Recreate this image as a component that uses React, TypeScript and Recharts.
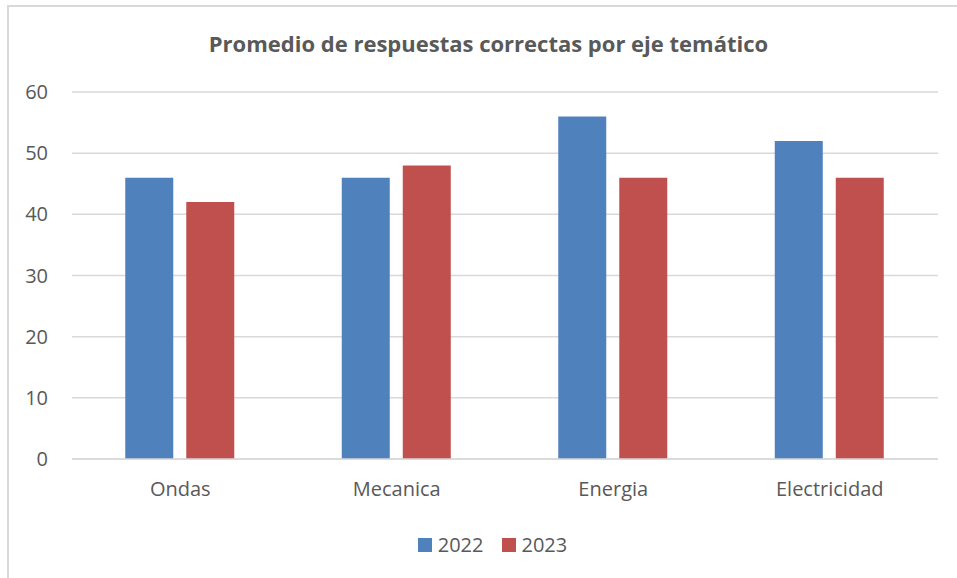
import React from 'react';
import { BarChart, Bar, XAxis, YAxis, CartesianGrid, Legend } from 'recharts';

const categories = ['Ondas', 'Mecanica', 'Energia', 'Electricidad'];
const values2022 = [46, 46, 56, 52];
const values2023 = [42, 48, 46, 46];
const yTicks = [0, 10, 20, 30, 40, 50, 60];
const seriesNames = ['2022', '2023'];
const seriesColors = ['#4F81BD', '#C0504D'];
const title = 'Promedio de respuestas correctas por eje temático';

const data = categories.map((c, i) => ({
  name: c,
  [seriesNames[0]]: values2022[i],
  [seriesNames[1]]: values2023[i],
}));

const FONT = '"Open Sans", "Noto Sans", sans-serif';
const TEXT = '#595959';

const renderLegend = () => (
  <div style={{ display: 'flex', justifyContent: 'center', alignItems: 'center', fontFamily: FONT, fontSize: 20, color: TEXT, gap: 18 }}>
    {seriesNames.map((s, i) => (
      <div key={s} style={{ display: 'flex', alignItems: 'center' }}>
        <div style={{ width: 14, height: 14, background: seriesColors[i], marginRight: 6 }} />
        <span>{s}</span>
      </div>
    ))}
  </div>
);

export default function App() {
  return (
    <div style={{ position: 'absolute', left: 0, top: 0, width: 957, height: 578, overflow: 'hidden', background: '#fff' }}>
      <div style={{ position: 'absolute', left: 7, top: 5, width: 1000, height: 1000, border: '2px solid #d9d9d9', boxSizing: 'border-box' }} />
      <div style={{ position: 'absolute', left: 0, top: 28, width: 977, textAlign: 'center', fontFamily: FONT, fontWeight: 700, fontSize: 22, color: TEXT, lineHeight: '30px' }}>
        {title}
      </div>
      <div style={{ position: 'absolute', left: 0, top: 0 }}>
        <BarChart width={957} height={578} data={data} margin={{ top: 92, right: 19, bottom: 59, left: 8 }} barCategoryGap="24.6%" barGap={13}>
          <CartesianGrid vertical={false} stroke="#d9d9d9" strokeWidth={1.5} />
          <XAxis dataKey="name" axisLine={{ stroke: '#d9d9d9', strokeWidth: 1.5 }} tickLine={false} tickSize={0} tickMargin={23} height={60}
            tick={{ fill: TEXT, fontSize: 20, fontFamily: FONT }} interval={0} />
          <YAxis domain={[0, 60]} ticks={yTicks} axisLine={false} tickLine={false} tickSize={0} tickMargin={24} width={64}
            tick={{ fill: TEXT, fontSize: 20, fontFamily: FONT }} />
          <Legend layout="horizontal" verticalAlign="middle" align="center" content={renderLegend}
            wrapperStyle={{ left: 14, top: 531, width: 957 }} />
          <Bar dataKey={seriesNames[0]} fill={seriesColors[0]} isAnimationActive={false} />
          <Bar dataKey={seriesNames[1]} fill={seriesColors[1]} isAnimationActive={false} />
        </BarChart>
      </div>
    </div>
  );
}
